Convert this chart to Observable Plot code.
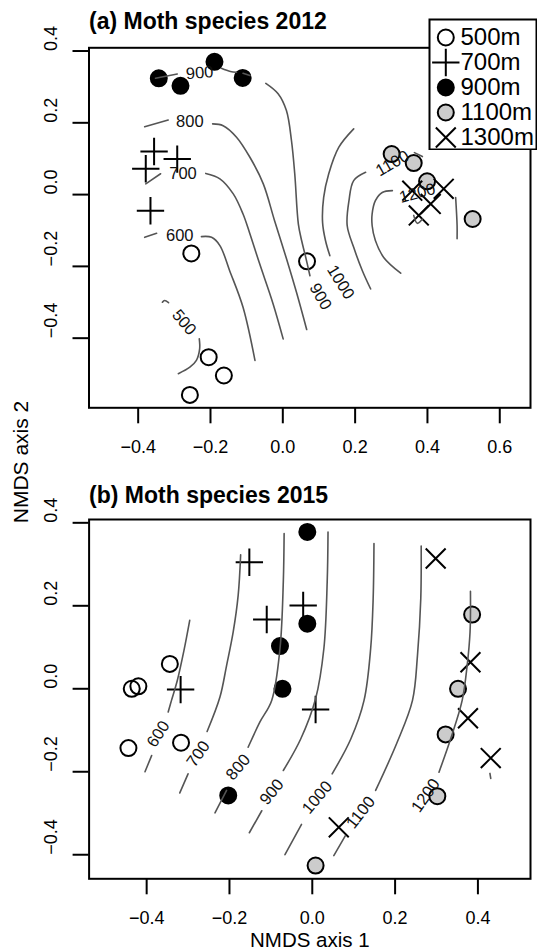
<!DOCTYPE html>
<html>
<head>
<meta charset="utf-8">
<script src="https://cdn.jsdelivr.net/npm/d3@7"></script>
<script src="https://cdn.jsdelivr.net/npm/@observablehq/plot@0.6"></script>
<style>
  html, body { margin: 0; padding: 0; background: white; }
  #root { position: relative; width: 537px; height: 951px; background: white; font-family: "Liberation Sans", Arial, Helvetica, sans-serif; overflow: hidden; }
  .abs { position: absolute; }
</style>
</head>
<body>
<div id="root"></div>
<script>
// ---------- categories ----------
const catNames = ["500m", "700m", "900m", "1100m", "1300m"];

// ---------- tick values ----------
const xTicksA = [-0.4, -0.2, 0.0, 0.2, 0.4, 0.6];
const yTicksA = [-0.4, -0.2, 0.0, 0.2, 0.4];
const xTicksB = [-0.4, -0.2, 0.0, 0.2, 0.4];
const yTicksB = [-0.4, -0.2, 0.0, 0.2, 0.4];

// ---------- panel (a) 2012 site scores [NMDS1, NMDS2] ----------
const a500 = [[-0.253, -0.164], [-0.205, -0.453], [-0.163, -0.504], [-0.257, -0.558], [0.067, -0.186]];
const a700 = [[-0.356, 0.120], [-0.292, 0.099], [-0.379, 0.072], [-0.366, -0.045]];
const a900 = [[-0.343, 0.324], [-0.283, 0.303], [-0.189, 0.370], [-0.111, 0.325]];
const a1100 = [[0.301, 0.113], [0.362, 0.088], [0.399, 0.037], [0.525, -0.068]];
const a1300 = [[0.358, 0.011], [0.445, 0.016], [0.409, -0.026], [0.376, -0.058]];

// ---------- panel (b) 2015 site scores ----------
const b500 = [[-0.436, 0.000], [-0.420, 0.006], [-0.344, 0.060], [-0.444, -0.143], [-0.317, -0.130]];
const b700 = [[-0.152, 0.305], [-0.110, 0.167], [-0.318, -0.002], [-0.022, 0.201], [0.008, -0.050]];
const b900 = [[-0.078, 0.103], [-0.072, 0.000], [-0.012, 0.378], [-0.012, 0.157], [-0.203, -0.257]];
const b1100 = [[0.386, 0.179], [0.352, 0.000], [0.322, -0.110], [0.302, -0.259], [0.008, -0.426]];
const b1300 = [[0.298, 0.314], [0.382, 0.064], [0.376, -0.071], [0.431, -0.167], [0.064, -0.334]];

// ---------- panel (a) elevation contour segments (ordisurf) ----------
const aC500 = [
  [[-0.333, -0.300], [-0.327, -0.295], [-0.316, -0.301]],
  [[-0.231, -0.402], [-0.230, -0.430], [-0.239, -0.462], [-0.257, -0.481], [-0.289, -0.499]]
];
const aC600 = [
  [[-0.382, -0.119], [-0.349, -0.108]],
  [[-0.225, -0.117], [-0.197, -0.119], [-0.174, -0.142], [-0.147, -0.212], [-0.110, -0.314], [-0.077, -0.462]]
];
const aC700 = [
  [[-0.379, 0.030], [-0.338, 0.058]],
  [[-0.213, 0.059], [-0.174, 0.044], [-0.137, 0.002], [-0.110, -0.054], [-0.092, -0.106], [-0.064, -0.193], [-0.027, -0.304], [0.001, -0.402]]
];
const aC800 = [
  [[-0.382, 0.189], [-0.317, 0.208]],
  [[-0.194, 0.197], [-0.165, 0.192], [-0.128, 0.160], [-0.091, 0.104], [-0.054, 0.030], [-0.023, -0.072], [0.010, -0.178], [0.038, -0.273], [0.066, -0.376]]
];
const aC900 = [
  [[-0.352, 0.324], [-0.292, 0.336]],
  [[-0.170, 0.352], [-0.145, 0.343], [-0.128, 0.341]],
  [[-0.110, 0.338], [-0.091, 0.332]],
  [[-0.047, 0.310], [-0.013, 0.281], [0.010, 0.234], [0.024, 0.150], [0.033, 0.058], [0.043, -0.082], [0.052, -0.128], [0.063, -0.173], [0.075, -0.226]]
];
const aC1000 = [
  [[0.196, 0.183], [0.155, 0.132], [0.127, 0.058], [0.113, -0.008], [0.110, -0.078], [0.118, -0.128], [0.130, -0.170]]
];
const aC1100 = [
  [[0.229, 0.062], [0.196, 0.039], [0.183, -0.017], [0.178, -0.086], [0.196, -0.147], [0.220, -0.212], [0.243, -0.263]],
  [[0.364, 0.117], [0.386, 0.106]]
];
const aC1200 = [
  [[0.303, 0.011], [0.275, 0.006], [0.256, -0.017], [0.247, -0.054], [0.247, -0.086], [0.256, -0.128], [0.279, -0.175], [0.326, -0.219]],
  [[0.478, -0.008], [0.482, -0.086], [0.482, -0.123]],
  [[0.362, -0.058], [0.372, -0.080], [0.386, -0.068]]
];
const aLabels = [
  {level: 500, x: -0.273, y: -0.356, angle: 50},
  {level: 600, x: -0.285, y: -0.114, angle: 0},
  {level: 700, x: -0.276, y: 0.059, angle: 0},
  {level: 800, x: -0.257, y: 0.203, angle: 0},
  {level: 900, x: -0.230, y: 0.339, angle: -4},
  {level: 900, x: 0.104, y: -0.284, angle: 60},
  {level: 1000, x: 0.160, y: -0.244, angle: 58},
  {level: 1100, x: 0.303, y: 0.087, angle: -30},
  {level: 1200, x: 0.372, y: 0.004, angle: -15}
];

// ---------- panel (b) elevation contour segments ----------
const bC600 = [
  [[-0.296, 0.165], [-0.310, 0.092], [-0.326, 0.020], [-0.340, -0.028], [-0.348, -0.056]],
  [[-0.388, -0.161], [-0.404, -0.200]]
];
const bC700 = [
  [[-0.173, 0.323], [-0.179, 0.225], [-0.191, 0.137], [-0.207, 0.056], [-0.223, -0.020], [-0.254, -0.103]],
  [[-0.300, -0.205], [-0.320, -0.251]]
];
const bC800 = [
  [[-0.068, 0.374], [-0.070, 0.257], [-0.078, 0.097], [-0.098, -0.028], [-0.127, -0.081], [-0.155, -0.141]],
  [[-0.207, -0.245], [-0.235, -0.299]]
];
const bC900 = [
  [[0.038, 0.378], [0.036, 0.257], [0.028, 0.097], [0.008, -0.024], [-0.028, -0.121], [-0.070, -0.197]],
  [[-0.122, -0.294], [-0.152, -0.347]]
];
const bC1000 = [
  [[0.149, 0.350], [0.147, 0.217], [0.141, 0.097], [0.125, -0.028], [0.093, -0.121], [0.048, -0.205]],
  [[-0.026, -0.327], [-0.066, -0.400]]
];
const bC1100 = [
  [[0.263, 0.344], [0.262, 0.217], [0.254, 0.080], [0.242, -0.028], [0.205, -0.129], [0.153, -0.245]],
  [[0.080, -0.354], [0.052, -0.402]]
];
const bC1200 = [
  [[0.382, 0.235], [0.381, 0.137], [0.374, 0.056], [0.362, -0.028], [0.334, -0.121], [0.306, -0.201]],
  [[0.429, -0.204], [0.431, -0.216]]
];
const bLabels = [
  {level: 600, x: -0.372, y: -0.109, angle: -57},
  {level: 700, x: -0.275, y: -0.157, angle: -55},
  {level: 800, x: -0.179, y: -0.189, angle: -50},
  {level: 900, x: -0.098, y: -0.249, angle: -51},
  {level: 1000, x: 0.012, y: -0.262, angle: -50},
  {level: 1100, x: 0.117, y: -0.298, angle: -52},
  {level: 1200, x: 0.274, y: -0.257, angle: -55}
];

// ---------- helpers ----------
const FONT = "'Liberation Sans', Arial, Helvetica, sans-serif";
const fmt = d => d.toFixed(1).replace("-", "\u2212");
function rows(levels) {
  const out = [];
  levels.forEach(([level, segs]) => segs.forEach((s, i) => s.forEach(([x, y]) => out.push({x, y, seg: level + "-" + i}))));
  return out;
}
const px = d => d[0], py = d => d[1];
const symStyle = {stroke: "black", strokeWidth: 2};
const PLUS_R = 8.85, TIMES_R = 9.1, CIRC_R = 8;
function pointMarks(g500, g700, g900, g1100, g1300) {
  return [
    Plot.dot(g500, {x: px, y: py, r: CIRC_R, fill: "none", ...symStyle}),
    Plot.dot(g700, {x: px, y: py, symbol: "plus", r: PLUS_R, ...symStyle}),
    Plot.dot(g900, {x: px, y: py, r: CIRC_R, fill: "black", ...symStyle}),
    Plot.dot(g1100, {x: px, y: py, r: CIRC_R, fill: "#cccccc", ...symStyle}),
    Plot.dot(g1300, {x: px, y: py, symbol: "times", r: TIMES_R, ...symStyle})
  ];
}
function axisMarks(xt, yt) {
  return [
    Plot.axisX(xt, {anchor: "bottom", tickSize: 16, strokeWidth: 2, tickFormat: () => "", label: null}),
    Plot.axisY(yt, {anchor: "left", tickSize: 16, strokeWidth: 2, tickFormat: () => "", label: null}),
    Plot.text(xt, {x: d => d, frameAnchor: "bottom", dy: 39.5, text: fmt, fontSize: 18, lineAnchor: "middle", fill: "black"}),
    Plot.text(yt, {y: d => d, frameAnchor: "left", dx: -38, text: fmt, rotate: -90, fontSize: 18, lineAnchor: "middle", fill: "black"})
  ];
}
function contourMarks(lineRows, labels) {
  return [
    Plot.line(lineRows, {x: "x", y: "y", z: "seg", stroke: "#555555", strokeWidth: 1.6, curve: "catmull-rom"}),
    Plot.text(labels, {x: "x", y: "y", text: d => String(d.level), rotate: "angle", fontSize: 16.5, fill: "#111", lineAnchor: "middle"})
  ];
}

const root = document.getElementById("root");
function place(el, left, top) {
  const w = document.createElement("div");
  w.className = "abs";
  w.style.left = left + "px";
  w.style.top = top + "px";
  w.appendChild(el);
  root.appendChild(w);
  return w;
}

// ---------- panel (a) ----------
const rowsA = rows([[500, aC500], [600, aC600], [700, aC700], [800, aC800], [900, aC900], [1000, aC1000], [1100, aC1100], [1200, aC1200]]);
const plotA = Plot.plot({
  width: 537, height: 470,
  marginLeft: 88.5, marginRight: 7, marginTop: 47.3, marginBottom: 62.7,
  style: {fontFamily: FONT, background: "transparent"},
  x: {domain: [-0.536, 0.685]},
  y: {domain: [-0.594, 0.409]},
  marks: [
    ...pointMarks(a500, a700, a900, a1100, a1300),
    ...contourMarks(rowsA, aLabels),
    Plot.frame({stroke: "black", strokeWidth: 2}),
    ...axisMarks(xTicksA, yTicksA),
    Plot.text(["(a) Moth species 2012"], {frameAnchor: "top-left", dy: -18.5, text: d => d, textAnchor: "start", lineAnchor: "bottom", fontSize: 23, fontWeight: "bold", fill: "black"})
  ]
});
place(plotA, 0, 0);

// ---------- panel (b) ----------
const rowsB = rows([[600, bC600], [700, bC700], [800, bC800], [900, bC900], [1000, bC1000], [1100, bC1100], [1200, bC1200]]);
const plotB = Plot.plot({
  width: 537, height: 481,
  marginLeft: 88.6, marginRight: 7, marginTop: 49, marginBottom: 72.7,
  style: {fontFamily: FONT, background: "transparent"},
  x: {domain: [-0.539, 0.527]},
  y: {domain: [-0.458, 0.408]},
  marks: [
    ...pointMarks(b500, b700, b900, b1100, b1300),
    ...contourMarks(rowsB, bLabels),
    Plot.frame({stroke: "black", strokeWidth: 2}),
    ...axisMarks(xTicksB, yTicksB),
    Plot.text(["(b) Moth species 2015"], {frameAnchor: "top-left", dy: -17, text: d => d, textAnchor: "start", lineAnchor: "bottom", fontSize: 23, fontWeight: "bold", fill: "black"}),
    Plot.text(["NMDS axis 1"], {frameAnchor: "bottom", dy: 68.5, text: d => d, lineAnchor: "bottom", fontSize: 20.5, fill: "black"})
  ]
});
place(plotB, 0, 470);

// ---------- legend ----------
const legend = Plot.plot({
  width: 109, height: 132, margin: 1,
  style: {fontFamily: FONT, background: "transparent"},
  y: {type: "point", domain: catNames, range: [18.4, 119.2], padding: 0, axis: null},
  marks: [
    Plot.frame({fill: "white", stroke: "black", strokeWidth: 2}),
    Plot.dot([catNames[0]], {y: d => d, frameAnchor: "left", dx: 16.3, r: CIRC_R, fill: "none", ...symStyle}),
    Plot.dot([catNames[1]], {y: d => d, frameAnchor: "left", dx: 16.3, symbol: "plus", r: PLUS_R, ...symStyle}),
    Plot.dot([catNames[2]], {y: d => d, frameAnchor: "left", dx: 16.3, r: CIRC_R, fill: "black", ...symStyle}),
    Plot.dot([catNames[3]], {y: d => d, frameAnchor: "left", dx: 16.3, r: CIRC_R, fill: "#cccccc", ...symStyle}),
    Plot.dot([catNames[4]], {y: d => d, frameAnchor: "left", dx: 16.3, symbol: "times", r: TIMES_R, ...symStyle}),
    Plot.text(catNames, {y: d => d, frameAnchor: "left", dx: 31, text: d => d, textAnchor: "start", lineAnchor: "middle", fontSize: 24, fill: "black"})
  ]
});
place(legend, 428, 18);

// ---------- shared y-axis title ----------
const yt = document.createElement("div");
yt.className = "abs";
yt.textContent = "NMDS axis 2";
Object.assign(yt.style, {left: "20px", top: "461.5px", fontSize: "21px", lineHeight: "1", whiteSpace: "nowrap", transform: "translate(-50%, -50%) rotate(-90deg)", fontFamily: FONT, color: "black"});
root.appendChild(yt);
</script>
</body>
</html>
